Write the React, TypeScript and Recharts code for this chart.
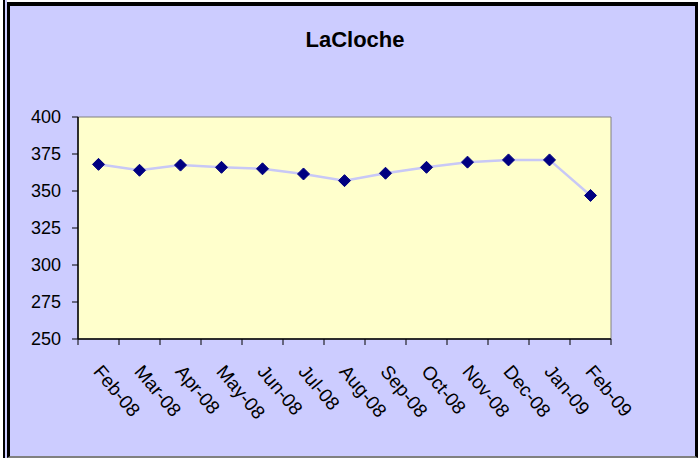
import React from 'react';
import { LineChart, Line, XAxis, YAxis, ReferenceArea } from 'recharts';

const months = ['Feb-08', 'Mar-08', 'Apr-08', 'May-08', 'Jun-08', 'Jul-08', 'Aug-08', 'Sep-08', 'Oct-08', 'Nov-08', 'Dec-08', 'Jan-09', 'Feb-09'];
const levels = [368, 364, 367.5, 366, 365, 361.5, 357, 362, 366, 369.5, 371, 371, 347];
const yTicks = [250, 275, 300, 325, 350, 375, 400];

const data = months.map((m, i) => ({ month: m, value: levels[i] }));

const FONT = '"Liberation Sans", Arial, sans-serif';

// diamond marker like the excel one
const Diamond = ({ cx, cy }: any) => {
  if (cx == null || cy == null) return null;
  const r = 6;
  return (
    <polygon
      points={`${cx},${cy - r} ${cx + r},${cy} ${cx},${cy + r} ${cx - r},${cy}`}
      fill="#000080"
      stroke="#000080"
    />
  );
};

// ticks sit on the category boundaries, labels slant down to the right
const MonthTick = ({ x, y, payload, index }: any) => {
  const half = payload && payload.offset ? payload.offset : 20.5;
  const tx = x - 6;
  const ty = y + 33;
  return (
    <g>
      <line x1={x - half} x2={x - half} y1={y} y2={y + 6} stroke="#000" />
      {index === months.length - 1 && (
        <line x1={x + half} x2={x + half} y1={y} y2={y + 6} stroke="#000" />
      )}
      <text
        x={tx}
        y={ty}
        transform={`rotate(50, ${tx}, ${ty})`}
        textAnchor="start"
        fontSize={19}
        fontFamily={FONT}
        fill="#000"
      >
        {payload.value}
      </text>
    </g>
  );
};

export default function App() {
  return (
    <div style={{ position: 'absolute', left: 0, top: 0, width: 698, height: 458, background: '#fff', overflow: 'hidden' }}>
      <div style={{ position: 'absolute', left: 3, top: 0, width: 2, height: 458, background: '#000' }} />
      <div style={{ position: 'absolute', left: 5, top: 0, width: 2, height: 458, background: '#CCCCFF' }} />
      <div
        style={{
          position: 'absolute',
          left: 7,
          top: 2,
          width: 691,
          height: 456,
          boxSizing: 'border-box',
          background: '#CCCCFF',
          borderTop: '4px solid #000',
          borderLeft: '3px solid #000',
          borderRight: '3px solid #000',
          borderBottom: '2px solid #808080',
        }}
      />
      <div
        style={{
          position: 'absolute',
          left: 0,
          top: 27,
          width: 710,
          textAlign: 'center',
          fontFamily: FONT,
          fontWeight: 'bold',
          fontSize: 22,
          lineHeight: '26px',
        }}
      >
        LaCloche
      </div>
      <div style={{ position: 'absolute', left: 0, top: 0 }}>
        <LineChart width={698} height={458} data={data} margin={{ top: 117, right: 87, bottom: 0, left: 0 }}>
          <ReferenceArea y1={250} y2={400} fill="#FFFFCC" fillOpacity={1} stroke="#808080" strokeWidth={1} />
          <XAxis
            dataKey="month"
            scale="band"
            height={119}
            interval={0}
            tickSize={0}
            tickMargin={0}
            tickLine={false}
            axisLine={{ stroke: '#000', strokeWidth: 1.5 }}
            tick={<MonthTick />}
          />
          <YAxis
            width={78}
            domain={[250, 400]}
            ticks={yTicks}
            interval={0}
            tickSize={6}
            tickMargin={11}
            tickLine={{ stroke: '#000' }}
            axisLine={{ stroke: '#000', strokeWidth: 1.5 }}
            tick={{ fontSize: 18, fontFamily: FONT, fill: '#000' }}
          />
          <Line
            type="linear"
            dataKey="value"
            stroke="#C8C8F6"
            strokeWidth={2.5}
            dot={<Diamond />}
            activeDot={false}
            isAnimationActive={false}
          />
        </LineChart>
      </div>
    </div>
  );
}
